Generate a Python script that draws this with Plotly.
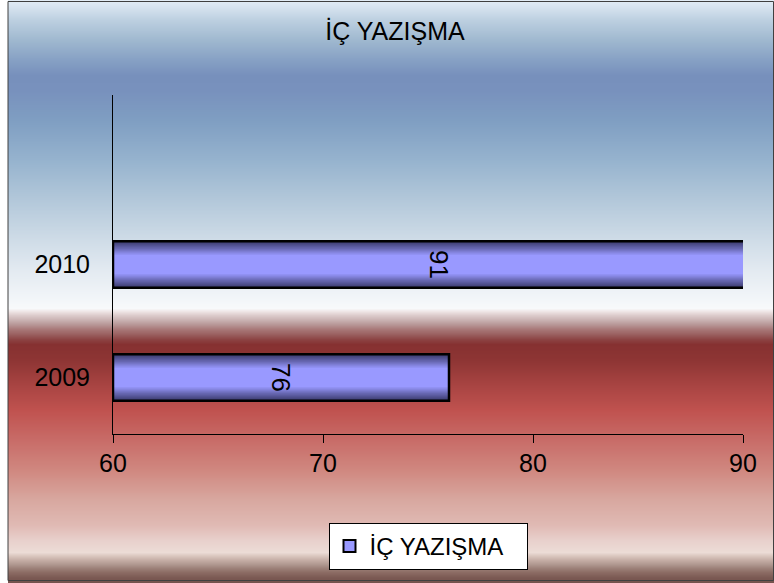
import base64
import struct
import zlib

import plotly.graph_objects as go

# ---- data ----
categories = ["2009", "2010"]
values = [76, 91]
series_name = "İÇ YAZIŞMA"
chart_title = "İÇ YAZIŞMA"
x_min, x_max = 60, 90
x_ticks = [60, 70, 80, 90]

# ---- background gradient (pixel row, colour) ----
bg_stops = [
    (0, "#e2ecf5"), (5, "#dae6f1"), (20, "#bccfe0"), (40, "#9fb8cf"),
    (60, "#86a0c4"), (75, "#7790bc"), (90, "#7891bd"), (120, "#7f9ec2"),
    (160, "#96b3ce"), (200, "#b3c8da"), (240, "#cfdce7"), (270, "#e3eaf1"),
    (300, "#f3f6f9"), (308, "#f8f9fb"), (311, "#efe6e6"), (315, "#dccbcb"),
    (320, "#c8b0b0"), (324, "#b89898"), (329, "#a87878"), (334, "#9a6060"),
    (339, "#8c4444"), (344, "#863131"), (360, "#8e3534"), (385, "#a84442"),
    (410, "#c0524f"), (440, "#c86c68"), (470, "#d08880"), (500, "#d8a8a0"),
    (525, "#e0bab4"), (540, "#e8d0cc"), (552, "#ecdcd6"), (556, "#d8c4bc"),
    (560, "#c4aca4"), (564, "#b09890"), (568, "#9c8078"), (572, "#8c6c64"),
    (577, "#7c5a54"), (582, "#74524c"),
]

W, H = 774, 583
ML, MR, MT, MB = 113, 31, 95, 149
PW, PH = W - ML - MR, H - MT - MB


def hex2rgb(h):
    h = h.lstrip("#")
    return tuple(int(h[i:i + 2], 16) for i in (0, 2, 4))


def color_at(y):
    for (y0, c0), (y1, c1) in zip(bg_stops[:-1], bg_stops[1:]):
        if y0 <= y <= y1:
            t = 0 if y1 == y0 else (y - y0) / (y1 - y0)
            a, b = hex2rgb(c0), hex2rgb(c1)
            return tuple(round(a[i] + (b[i] - a[i]) * t) for i in range(3))
    return hex2rgb(bg_stops[-1][1])


def make_png(rows, width=4):
    raw = b""
    for rgb in rows:
        raw += b"\x00" + bytes(rgb) * width
    def chunk(tag, data):
        c = struct.pack(">I", len(data)) + tag + data
        return c + struct.pack(">I", zlib.crc32(tag + data) & 0xffffffff)
    png = b"\x89PNG\r\n\x1a\n"
    png += chunk(b"IHDR", struct.pack(">IIBBBBB", width, len(rows), 8, 2, 0, 0, 0))
    png += chunk(b"IDAT", zlib.compress(raw, 9))
    png += chunk(b"IEND", b"")
    return "data:image/png;base64," + base64.b64encode(png).decode()


bg_uri = make_png([color_at(y) for y in range(H)])

FONT = "Liberation Sans, Arial, sans-serif"
bar_w = 0.41
# bars start at the axis minimum, as in the original chart
lengths = [v - x_min for v in values]

fig = go.Figure()

# legend / base trace
fig.add_trace(go.Bar(
    x=lengths, base=x_min, y=categories, orientation="h", width=bar_w,
    name=series_name,
    marker=dict(color="#9999ff", line=dict(color="black", width=2)),
    showlegend=True, hoverinfo="skip",
))

# gradient layers (same data, narrower widths, lighter toward the middle)
dark = hex2rgb("#3e3e72")
light = hex2rgb("#9999ff")
n_layers = 14
for k in range(n_layers):
    frac = 1 - k * 0.045
    t = (k / (n_layers - 1)) ** 1.1
    rgb = tuple(round(dark[i] + (light[i] - dark[i]) * t) for i in range(3))
    fig.add_trace(go.Bar(
        x=lengths, base=x_min, y=categories, orientation="h",
        width=bar_w * frac,
        marker=dict(color="rgb(%d,%d,%d)" % rgb, line=dict(width=0)),
        showlegend=False, hoverinfo="skip",
    ))

# outline + labels
fig.add_trace(go.Bar(
    x=lengths, base=x_min, y=categories, orientation="h", width=bar_w,
    marker=dict(color="rgba(153,153,255,0.004)", line=dict(color="black", width=2.5)),
    text=[str(v) for v in values], textposition="inside",
    insidetextanchor="middle", textangle=90, constraintext="none",
    insidetextfont=dict(family=FONT, size=26, color="black"),
    textfont=dict(family=FONT, size=26, color="black"),
    showlegend=False, hoverinfo="skip",
))

fig.update_layout(
    width=W, height=H,
    margin=dict(l=ML, r=MR, t=MT, b=MB),
    barmode="overlay",
    paper_bgcolor="white",
    plot_bgcolor="rgba(0,0,0,0)",
    font=dict(family=FONT, size=25, color="black"),
    title=dict(text=chart_title, x=395 / W, xref="container", xanchor="center",
               y=1 - 31 / H, yref="container", yanchor="middle",
               font=dict(family=FONT, size=25, color="black")),
    xaxis=dict(range=[x_min, x_max], tickvals=x_ticks, ticks="outside", ticklen=8,
               tickcolor="black", tickwidth=1, showline=True, linecolor="black",
               linewidth=1, showgrid=False, zeroline=False, ticklabelstandoff=-1,
               tickfont=dict(family=FONT, size=25, color="black")),
    yaxis=dict(type="category", categoryorder="array", categoryarray=categories,
               range=[-0.5, 2.5], showline=True, linecolor="black", linewidth=1,
               showgrid=False, zeroline=False, ticks="outside", ticklen=17,
               tickcolor="rgba(0,0,0,0)",
               tickfont=dict(family=FONT, size=25, color="black")),
    legend=dict(orientation="h", x=0.5, xanchor="center", y=-(523 - (H - MB)) / PH,
                yanchor="top", bgcolor="white", bordercolor="black", borderwidth=1,
                font=dict(family=FONT, size=24, color="black"),
                entrywidth=152, itemsizing="constant"),
    images=[dict(source=bg_uri, xref="paper", yref="paper",
                 x=(8 - ML) / PW, y=1 + MT / PH, sizex=(W - 8) / PW, sizey=H / PH,
                 xanchor="left", yanchor="top", sizing="stretch", layer="below")],
    shapes=[dict(type="rect", xref="paper", yref="paper",
                 x0=(8 - ML) / PW, x1=(W - 0.5 - ML) / PW,
                 y0=-(580.5 - (H - MB)) / PH, y1=1 + (MT - 1.5) / PH,
                 line=dict(color="#404040", width=1), fillcolor="rgba(0,0,0,0)",
                 layer="above")],
)

fig.write_html("out.html", config={"displayModeBar": False},
               post_script="document.body.style.margin='0';document.body.style.padding='0';")
